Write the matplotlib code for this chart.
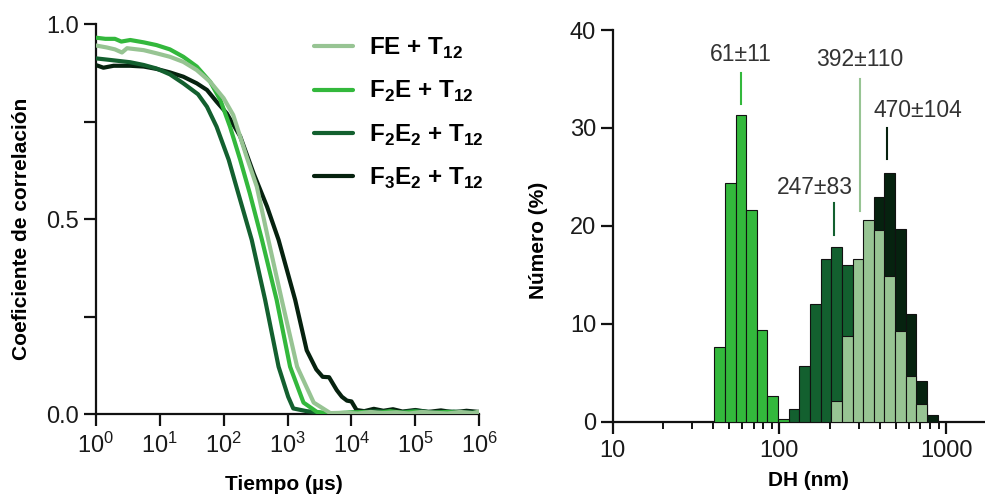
import numpy as np
import matplotlib
matplotlib.use("Agg")
import matplotlib.pyplot as plt
from matplotlib.ticker import FixedLocator, FixedFormatter, LogLocator, NullFormatter, NullLocator

plt.rcParams['font.family'] = ['Liberation Sans', 'DejaVu Sans']
plt.rcParams['mathtext.fontset'] = 'custom'
plt.rcParams['mathtext.rm'] = 'Liberation Sans'
plt.rcParams['mathtext.bf'] = 'Liberation Sans:bold'

# ---- left panel: correlation curves (x given as log10 of time in us) ----
fe_logt = [0.0, 0.17, 0.3, 0.41, 0.49, 0.75, 0.95, 1.16, 1.37, 1.58, 1.79, 2.0, 2.15,
           2.36, 2.52, 2.7, 2.91, 3.15, 3.41, 3.67, 3.9, 4.1, 4.3, 4.5, 4.7, 4.9,
           5.1, 5.3, 5.5, 5.7, 5.9, 6.0]
fe_g = [0.945, 0.940, 0.935, 0.927, 0.938, 0.933, 0.925, 0.916, 0.903, 0.882, 0.852, 0.810, 0.767,
        0.660, 0.583, 0.447, 0.293, 0.122, 0.030, 0.003, 0.004, 0.002, 0.006, 0.003, 0.005, 0.002,
        0.006, 0.004, 0.002, 0.006, 0.003, 0.007]

f2e_logt = [0.0, 0.15, 0.3, 0.4, 0.54, 0.75, 0.95, 1.16, 1.37, 1.58, 1.79, 1.95, 2.1,
            2.26, 2.41, 2.6, 2.83, 3.04, 3.25, 3.46, 3.7, 3.9, 4.2, 4.4, 4.6, 4.8,
            5.0, 5.2, 5.5, 5.8, 6.0]
f2e_g = [0.965, 0.962, 0.962, 0.955, 0.959, 0.953, 0.946, 0.935, 0.916, 0.891, 0.852, 0.805, 0.737,
         0.652, 0.566, 0.447, 0.293, 0.122, 0.030, 0.006, 0.002, 0.004, 0.006, 0.003, 0.008, 0.004,
         0.007, 0.003, 0.006, 0.002, 0.005]

f2e2_logt = [0.0, 0.22, 0.54, 0.75, 0.95, 1.16, 1.37, 1.6, 1.74, 1.89, 2.08, 2.23, 2.44,
             2.65, 2.86, 3.01, 3.09, 3.3, 3.47, 3.6, 3.8, 4.1, 4.4, 4.7, 5.0, 5.3, 5.6, 6.0]
f2e2_g = [0.912, 0.908, 0.902, 0.895, 0.886, 0.871, 0.848, 0.820, 0.788, 0.737, 0.652, 0.566, 0.447,
          0.293, 0.122, 0.045, 0.015, 0.008, 0.005, 0.001, 0.002, 0.005, 0.008, 0.004, 0.009, 0.005,
          0.007, 0.004]

f3e2_logt = [0.0, 0.12, 0.28, 0.54, 0.75, 0.95, 1.16, 1.37, 1.58, 1.74, 1.89, 2.05, 2.26,
             2.47, 2.68, 2.86, 3.12, 3.3, 3.45, 3.55, 3.65, 3.77, 3.85, 3.93, 4.0, 4.08,
             4.2, 4.35, 4.5, 4.65, 4.8, 5.0, 5.2, 5.4, 5.6, 5.8, 6.0]
f3e2_g = [0.895, 0.888, 0.893, 0.893, 0.891, 0.885, 0.876, 0.865, 0.848, 0.831, 0.801, 0.771, 0.712,
          0.617, 0.532, 0.447, 0.293, 0.164, 0.115, 0.096, 0.095, 0.062, 0.045, 0.035, 0.033, 0.011,
          0.008, 0.014, 0.009, 0.013, 0.007, 0.011, 0.006, 0.010, 0.005, 0.009, 0.006]

# ---- right panel: number distributions ----
size_nm = [43.82, 50.75, 58.77, 68.06, 78.82, 91.28, 105.7, 122.4, 141.8, 164.2, 190.1,
           220.2, 255.0, 295.3, 342.0, 396.1, 458.7, 531.2, 615.1, 712.4, 825.0]
num_f2e = [7.6, 24.4, 31.3, 21.6, 9.4, 2.6, 0.3, 0, 0, 0, 0,
           0, 0, 0, 0, 0, 0, 0, 0, 0, 0]
num_f2e2 = [0, 0, 0, 0, 0, 0, 0, 1.3, 5.7, 12.0, 16.6,
            17.8, 16.0, 11.0, 5.5, 2.0, 0.5, 0, 0, 0, 0]
num_f3e2 = [0, 0, 0, 0, 0, 0, 0, 0, 0, 0, 0,
            0.5, 3.0, 8.5, 16.0, 22.9, 25.4, 19.7, 11.0, 4.2, 0.7]
num_fe = [0, 0, 0, 0, 0, 0, 0, 0, 0, 0, 0,
          2.1, 8.8, 16.6, 20.6, 19.6, 14.9, 9.3, 4.7, 1.8, 0]

labels = ['FE + T$_\\mathbf{12}$', 'F$_\\mathbf{2}$E + T$_\\mathbf{12}$',
          'F$_\\mathbf{2}$E$_\\mathbf{2}$ + T$_\\mathbf{12}$', 'F$_\\mathbf{3}$E$_\\mathbf{2}$ + T$_\\mathbf{12}$']
colors = ['#97c493', '#33b83c', '#13602f', '#06220f']
peak_text = ['392±110', '61±11', '247±83', '470±104']

fig = plt.figure(figsize=(9.85, 4.97), dpi=100)
ax1 = fig.add_axes([0.0972, 0.1664, 0.3894, 0.7853])
ax2 = fig.add_axes([0.622, 0.1515, 0.378, 0.788])

# left panel
curves = [(fe_logt, fe_g), (f2e_logt, f2e_g), (f2e2_logt, f2e2_g), (f3e2_logt, f3e2_g)]
zorders = [6, 5, 4, 3]
handles = []
for (lt, g), c, lab, z in zip(curves, colors, labels, zorders):
    h, = ax1.plot(10 ** np.array(lt), g, color=c, lw=3.0, label=lab, zorder=z,
                  solid_capstyle='round', solid_joinstyle='round')
    handles.append(h)

ax1.set_xscale('log')
ax1.set_xlim(1, 1e6)
ax1.set_ylim(0, 1)
ax1.xaxis.set_major_locator(LogLocator(base=10, numticks=10))
ax1.xaxis.set_minor_locator(NullLocator())
ax1.yaxis.set_major_locator(FixedLocator([0, 0.25, 0.5, 0.75, 1.0]))
ax1.yaxis.set_major_formatter(FixedFormatter(['0.0', '', '0.5', '', '1.0']))
ax1.set_ylabel('Coeficiente de correlación', fontsize=15, fontweight='bold')
ax1.set_xlabel('Tiempo (µs)', fontsize=15, fontweight='bold')
ax1.yaxis.set_label_coords(-0.17, 0.475)
ax1.xaxis.set_label_coords(0.49, -0.155)
leg = ax1.legend(handles=handles, loc='upper left', bbox_to_anchor=(0.57, 0.97),
                 frameon=False, handlelength=1.6, handletextpad=0.65, labelspacing=0.75,
                 borderaxespad=0, borderpad=0, prop={'weight': 'bold', 'size': 17.5})

# right panel
size_arr = np.array(size_nm)
ratio = np.sqrt(size_arr[1] / size_arr[0])
lefts = size_arr / ratio
widths = size_arr * ratio - lefts
for vals, c, z in [(num_f2e2, colors[2], 2), (num_f3e2, colors[3], 3),
                   (num_fe, colors[0], 4), (num_f2e, colors[1], 5)]:
    v = np.array(vals)
    m = v > 0
    ax2.bar(lefts[m], v[m], width=widths[m], align='edge', color=c,
            edgecolor='#111111', linewidth=0.8, zorder=z)

ax2.set_xscale('log')
ax2.set_xlim(10, 1710)
ax2.set_ylim(0, 40)
ax2.xaxis.set_major_locator(FixedLocator([10, 100, 1000]))
ax2.xaxis.set_major_formatter(FixedFormatter(['10', '100', '1000']))
ax2.xaxis.set_minor_locator(LogLocator(base=10, subs=np.arange(2, 10), numticks=10))
ax2.xaxis.set_minor_formatter(NullFormatter())
ax2.yaxis.set_major_locator(FixedLocator([0, 10, 20, 30, 40]))
ax2.set_ylabel('Número (%)', fontsize=15, fontweight='bold')
ax2.set_xlabel('DH (nm)', fontsize=15, fontweight='bold')
ax2.yaxis.set_label_coords(-0.175, 0.462)
ax2.xaxis.set_label_coords(0.527, -0.125)

# peak markers: (line x, line y0, y1, text x, text y)
marks = [(305, 21.5, 35.0, 305, 37.0),
         (58.8, 32.4, 35.6, 58.8, 37.5),
         (213, 19.1, 22.3, 163, 23.9),
         (440, 26.8, 30.0, 680, 31.8)]
for (lx, y0, y1, tx, ty), c, t in zip(marks, colors, peak_text):
    ax2.plot([lx, lx], [y0, y1], color=c, lw=1.5, zorder=6)
    ax2.text(tx, ty, t, ha='center', va='center', fontsize=16.5, color='#333333')

for ax in (ax1, ax2):
    for s in ('top', 'right'):
        ax.spines[s].set_visible(False)
    for s in ('left', 'bottom'):
        ax.spines[s].set_linewidth(1.6)
        ax.spines[s].set_color('#111111')
    ax.tick_params(which='major', length=8.5, width=1.6, color='#111111',
                   labelsize=17, labelcolor='#1a1a1a')
    ax.tick_params(which='minor', length=5, width=1.4, color='#111111')
    ax.tick_params(axis='y', pad=3.5)
    ax.tick_params(axis='x', pad=5)
    ax.spines['bottom'].set_zorder(1)

fig.savefig('out.png', dpi=100)
